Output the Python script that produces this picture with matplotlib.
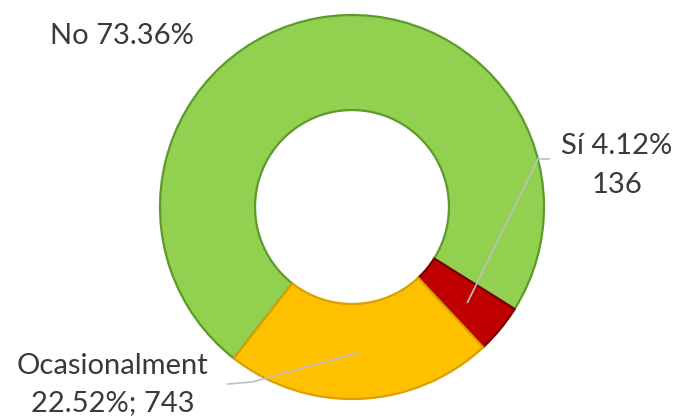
import matplotlib
matplotlib.use('Agg')
import numpy as np
import matplotlib.pyplot as plt

labels = ["No", "Sí", "Ocasionalment"]
percents = [73.36, 4.12, 22.52]
counts = [None, 136, 743]
colors = ["#92D050", "#C00000", "#FFC000"]
edges = ["#5E9A2A", "#7A0000", "#D9A000"]

W, H = 684, 417
cx, cy, R = 352, 207, 192

fig = plt.figure(figsize=(W / 100, H / 100), dpi=100)
ax = fig.add_axes([(cx - R) / W, (H - cy - R) / H, 2 * R / W, 2 * R / H])

start = 232
wedges, _ = ax.pie(percents, colors=colors, startangle=start, counterclock=False,
                   radius=1.0, wedgeprops=dict(width=0.495, linewidth=1.6))
for w, ec in zip(wedges, edges):
    w.set_edgecolor(ec)
ax.set_xlim(-1, 1)
ax.set_ylim(-1, 1)
ax.set_aspect('equal')
ax.axis('off')


def px(x, y):
    # pixel (from top-left) -> data coords of the pie axes
    return (x - cx) / R, (cy - y) / R


def anchor(i, r):
    ang = np.deg2rad((wedges[i].theta1 + wedges[i].theta2) / 2)
    return r * np.cos(ang), r * np.sin(ang)


line_kw = dict(color="#BFBFBF", lw=1.2, clip_on=False, zorder=5)
txt_kw = dict(color="#3A3A3A", fontsize=21, family=["Lato", "DejaVu Sans"])

# No
fig.text(50 / W, 1 - 36 / H, "{} {:.2f}%".format(labels[0], percents[0]),
         ha='left', va='center', **txt_kw)

# Sí
ax_, ay_ = anchor(1, 0.78)
p1 = px(549, 159)
p2 = px(538, 159)
ax.plot([p1[0], p2[0], ax_], [p1[1], p2[1], ay_], **line_kw)
fig.text(617 / W, 1 - 146 / H, "{} {:.2f}%".format(labels[1], percents[1]),
         ha='center', va='center', **txt_kw)
fig.text(617 / W, 1 - 185 / H, "{}".format(counts[1]),
         ha='center', va='center', **txt_kw)

# Ocasionalment
bx, by = anchor(2, 0.76)
q1 = px(228, 384)
q2 = px(252, 382)
ax.plot([q1[0], q2[0], bx], [q1[1], q2[1], by], **line_kw)
fig.text(113 / W, 1 - 366 / H, labels[2], ha='center', va='center', **txt_kw)
fig.text(113 / W, 1 - 403 / H, "{:.2f}%; {}".format(percents[2], counts[2]),
         ha='center', va='center', **txt_kw)

fig.savefig("out.png", dpi=100)
